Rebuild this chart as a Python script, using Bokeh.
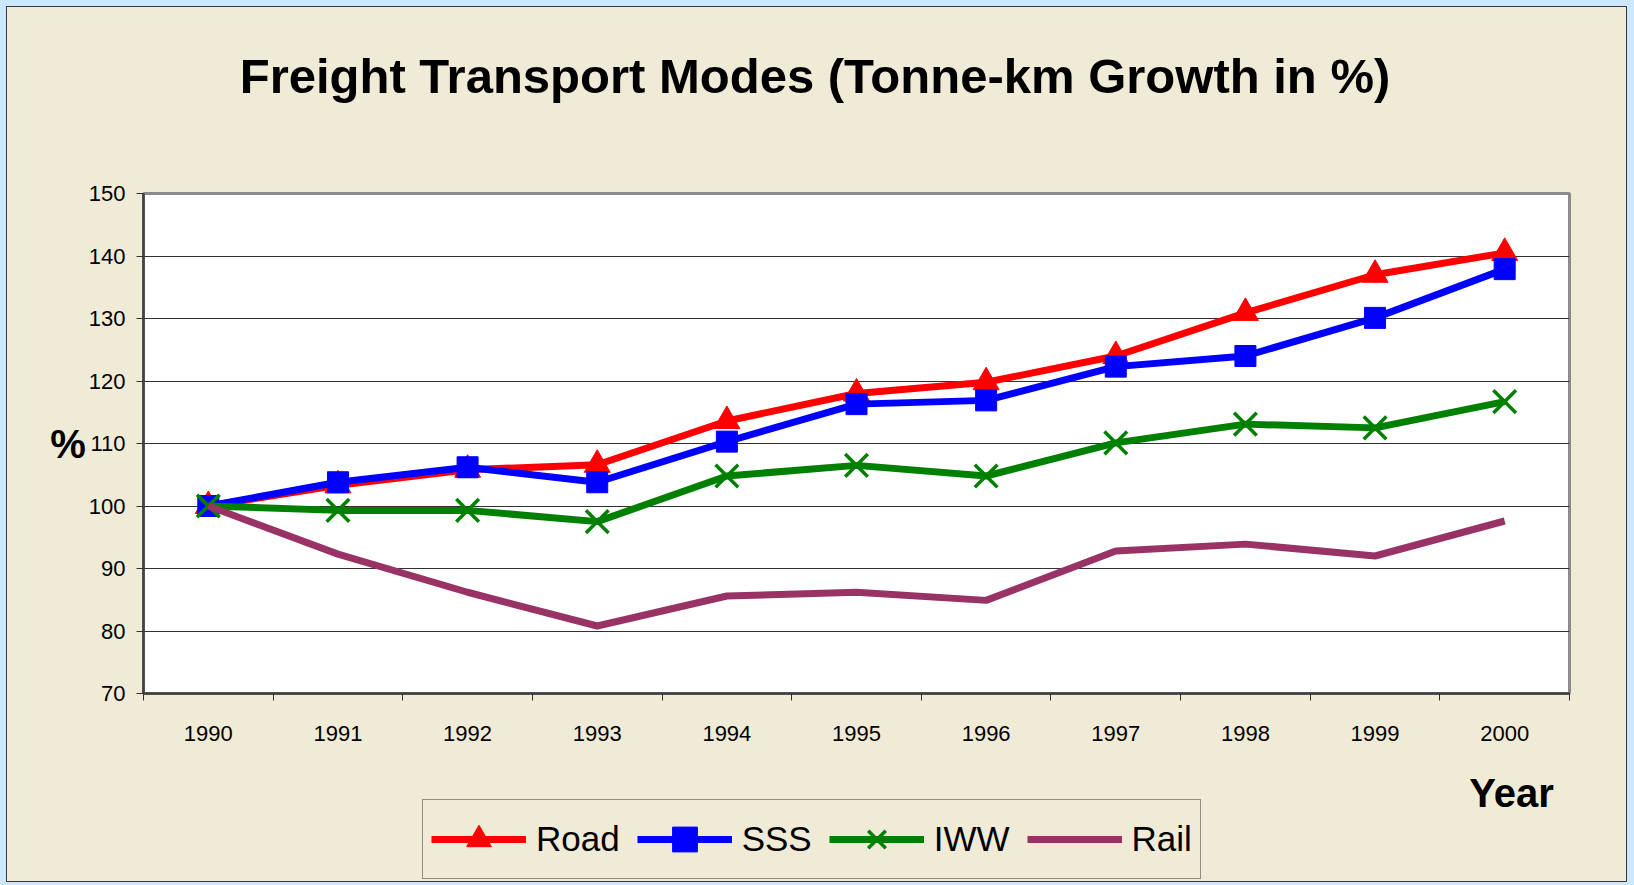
from bokeh.plotting import figure
from bokeh.layouts import column
from bokeh.models import Range1d, FixedTicker, Legend, LegendItem, Label
from bokeh.embed import file_html
from bokeh.resources import INLINE

# ---------------- data ----------------
years = [1990, 1991, 1992, 1993, 1994, 1995, 1996, 1997, 1998, 1999, 2000]
road = [100, 103.3, 105.8, 106.6, 113.6, 118.0, 119.8, 124.0, 130.9, 137.0, 140.5]
sss = [100, 103.8, 106.2, 103.8, 110.3, 116.3, 116.9, 122.3, 124.0, 130.1, 137.9]
iww = [100, 99.3, 99.3, 97.5, 104.8, 106.5, 104.8, 110.1, 113.1, 112.5, 116.7]
rail = [100, 92.3, 86.2, 80.8, 85.6, 86.2, 84.9, 92.8, 93.9, 92.0, 97.6]
y_ticks = [70, 80, 90, 100, 110, 120, 130, 140, 150]
series_names = ["Road", "SSS", "IWW", "Rail"]
title_text = "Freight Transport Modes (Tonne-km Growth in %)"
y_label = "%"
x_label = "Year"

# ---------------- styles ----------------
FONT = "'Liberation Sans', Arial, sans-serif"
BG = "#F0EBD7"
PAGE_BG = "#CCE8FF"
COL = {"Road": "#FF0000", "SSS": "#0000FF", "IWW": "#008000", "Rail": "#993366"}
LW = 7

W = 1619
H_TOP, H_MAIN, H_BOT = 173, 585, 116
ML, MR, MT, MB = 136, 57, 13, 72


def blank_fig(h):
    f = figure(width=W, height=h, output_backend="svg", toolbar_location=None,
               x_range=Range1d(0, W), y_range=Range1d(0, h),
               x_axis_location=None, y_axis_location=None, min_border=0,
               background_fill_color=None, border_fill_color=None)
    f.outline_line_color = None
    f.grid.visible = False
    return f


# ---------------- title strip ----------------
top = blank_fig(H_TOP)
top.add_layout(Label(x=807.5 - ML, y=104.5, x_units="screen", y_units="screen",
                     text=title_text, text_align="center", text_baseline="middle",
                     text_font=FONT, text_font_style="bold", text_font_size="49px",
                     text_color="black"))

# ---------------- main chart ----------------
p = figure(width=W, height=H_MAIN, output_backend="svg", toolbar_location=None,
           x_range=Range1d(years[0] - 0.5, years[-1] + 0.5),
           y_range=Range1d(y_ticks[0], y_ticks[-1]),
           min_border_left=ML, min_border_right=MR,
           min_border_top=MT, min_border_bottom=MB,
           background_fill_color="white", border_fill_color=None)
p.outline_line_color = "#8c8c8c"
p.outline_line_width = 3

p.xaxis.ticker = FixedTicker(ticks=years,
                             minor_ticks=[y - 0.5 for y in years] + [years[-1] + 0.5])
p.xaxis.major_tick_line_color = None
p.xaxis.major_tick_out = 0
p.xaxis.major_tick_in = 0
p.xaxis.minor_tick_out = 7
p.xaxis.minor_tick_in = 0
p.xaxis.minor_tick_line_color = "#303030"
p.xaxis.major_label_standoff = 25
p.xaxis.major_label_text_font = FONT
p.xaxis.major_label_text_font_size = "22px"
p.xaxis.major_label_text_color = "black"
p.xaxis.axis_line_color = "#404040"
p.xaxis.axis_line_width = 2.5

p.yaxis.ticker = FixedTicker(ticks=y_ticks)
p.yaxis.major_tick_out = 7
p.yaxis.major_tick_in = 0
p.yaxis.major_tick_line_color = "#303030"
p.yaxis.minor_tick_line_color = None
p.yaxis.major_label_standoff = 11
p.yaxis.major_label_text_font = FONT
p.yaxis.major_label_text_font_size = "22px"
p.yaxis.major_label_text_color = "black"
p.yaxis.axis_line_color = "#404040"
p.yaxis.axis_line_width = 2.5
p.yaxis.axis_label = y_label
p.yaxis.axis_label_orientation = "horizontal"
p.yaxis.axis_label_standoff = 0
p.yaxis.axis_label_text_font = FONT
p.yaxis.axis_label_text_font_style = "bold"
p.yaxis.axis_label_text_font_size = "40px"
p.yaxis.axis_label_text_color = "black"

p.xgrid.grid_line_color = None
p.ygrid.ticker = FixedTicker(ticks=y_ticks)
p.ygrid.grid_line_color = "#303030"
p.ygrid.grid_line_width = 1.2

data = {"Road": road, "SSS": sss, "IWW": iww, "Rail": rail}
MARK = {"Road": dict(marker="triangle", size=26),
        "SSS": dict(marker="square", size=21),
        "IWW": dict(marker="x", size=32, line_width=3.5),
        "Rail": None}

for name in series_names:
    p.line(years, data[name], line_color=COL[name], line_width=LW)
    if MARK[name]:
        p.scatter(years, data[name], fill_color=COL[name], line_color=COL[name], **MARK[name])

# ---------------- legend strip ----------------
bot = blank_fig(H_BOT)
items = []
for name in series_names:
    # hidden copies of the series, used only to draw the legend swatches
    rs = [bot.line(years, data[name], line_color=COL[name], line_width=LW, visible=False)]
    if MARK[name]:
        rs.append(bot.scatter(years, data[name], fill_color=COL[name], line_color=COL[name],
                              visible=False, **MARK[name]))
    items.append(LegendItem(label=name, renderers=rs))

legend = Legend(items=items, orientation="horizontal", location=(415 - ML, 2),
                glyph_width=95, glyph_height=62, label_height=62,
                label_standoff=10, spacing=17, padding=8, margin=0,
                label_text_font=FONT, label_text_font_size="35px",
                label_text_color="black",
                border_line_color="#303030", border_line_width=1.2,
                background_fill_color=BG, background_fill_alpha=1,
                inactive_fill_alpha=0)
bot.add_layout(legend)
bot.add_layout(Label(x=1504 - ML, y=88.5, x_units="screen", y_units="screen",
                     text=x_label, text_align="center", text_baseline="middle",
                     text_font=FONT, text_font_style="bold", text_font_size="40px",
                     text_color="black"))

layout = column(top, p, bot, spacing=0)
layout.styles = {"outline": "1.5px solid #3a3a3a", "background-color": BG}

html = file_html(layout, INLINE)
html = html.replace("</head>",
                    "<style>html,body{background:%s !important;}"
                    "body{padding:7px !important;}</style></head>" % PAGE_BG, 1)
open("out.html", "w").write(html)
